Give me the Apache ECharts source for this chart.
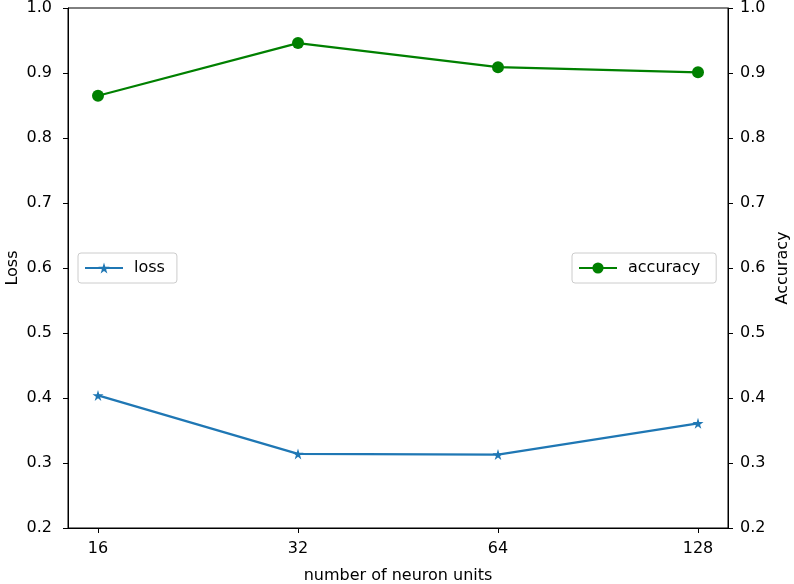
<!DOCTYPE html>
<html>
<head>
<meta charset="utf-8">
<script src="https://cdn.jsdelivr.net/npm/echarts@6/dist/echarts.min.js"></script>
<style>
  html, body { margin: 0; padding: 0; background: #fff; }
  #chart { width: 794px; height: 584px; }
</style>
</head>
<body>
<div id="chart"></div>
<script>
// 神经元个数
const units = ['16', '32', '64', '128']
// loss / accuracy
const loss = [0.404, 0.314, 0.313, 0.361]
const accuracy = [0.865, 0.946, 0.909, 0.901]

const FONT = 'DejaVu Sans'
const star = 'path://M50,0 L61,35 L98,35 L68,57 L79,91 L50,70 L21,91 L32,57 L2,35 L39,35 Z'
const pos = units.map((u, i) => i)

const yAxisBase = {
  type: 'value',
  min: 0.2,
  max: 1.0,
  interval: 0.1,
  nameLocation: 'middle',
  nameMoveOverlap: false,
  nameTextStyle: { fontFamily: FONT, fontSize: 16, color: '#000' },
  axisLine: { show: true, onZero: false, lineStyle: { color: '#000', width: 1 } },
  axisTick: { show: true, length: 5, lineStyle: { color: '#000' } },
  splitLine: { show: false }
}
const yLabel = margin => ({
  fontFamily: FONT, fontSize: 16, color: '#000', margin: margin,
  formatter: v => v.toFixed(1)
})

const legendBase = {
  top: 253,
  orient: 'horizontal',
  backgroundColor: '#fff',
  borderColor: '#ccc',
  borderWidth: 1,
  borderRadius: 3,
  padding: [7, 12, 7, 6],
  itemWidth: 38,
  itemHeight: 14,
  itemGap: 10,
  textStyle: { fontFamily: FONT, fontSize: 16, color: '#000', padding: [0, 0, 0, 6] }
}

const chart = echarts.init(document.getElementById('chart'), null, { renderer: 'canvas' })
chart.setOption({
  animation: false,
  backgroundColor: '#fff',
  grid: {
    left: 68, right: 66, top: 8, bottom: 56,
    outerBoundsMode: 'none',
    containLabel: false,
    show: true, borderColor: '#000', borderWidth: 1
  },
  xAxis: {
    type: 'value',
    min: -0.15,
    max: 3.15,
    name: 'number of neuron units',
    nameLocation: 'middle',
    nameGap: 40,
    nameMoveOverlap: false,
    nameTextStyle: { fontFamily: FONT, fontSize: 16, color: '#000' },
    axisLine: { show: true, onZero: false, lineStyle: { color: '#000' } },
    axisTick: { show: true, length: 5, customValues: pos, lineStyle: { color: '#000' } },
    axisLabel: {
      fontFamily: FONT, fontSize: 16, color: '#000', margin: 13,
      customValues: pos,
      formatter: v => units[Math.round(v)]
    },
    splitLine: { show: false }
  },
  yAxis: [
    Object.assign({}, yAxisBase, { position: 'left', name: 'Loss', nameGap: 47, axisLabel: yLabel(16) }),
    Object.assign({}, yAxisBase, { position: 'right', name: 'Accuracy', nameGap: 47, axisLabel: yLabel(12) })
  ],
  legend: [
    Object.assign({}, legendBase, { left: 78, data: ['loss'] }),
    Object.assign({}, legendBase, { left: 572, padding: [7, 16, 7, 6], data: ['accuracy'] })
  ],
  series: [
    {
      name: 'loss',
      type: 'line',
      yAxisIndex: 0,
      data: pos.map(i => [i, loss[i]]),
      symbol: star,
      symbolSize: 11,
      color: '#1f77b4',
      lineStyle: { width: 2.2, color: '#1f77b4' },
      itemStyle: { color: '#1f77b4' }
    },
    {
      name: 'accuracy',
      type: 'line',
      yAxisIndex: 1,
      data: pos.map(i => [i, accuracy[i]]),
      symbol: 'circle',
      symbolSize: 12,
      color: '#008000',
      lineStyle: { width: 2.2, color: '#008000' },
      itemStyle: { color: '#008000' }
    }
  ]
})
</script>
</body>
</html>
